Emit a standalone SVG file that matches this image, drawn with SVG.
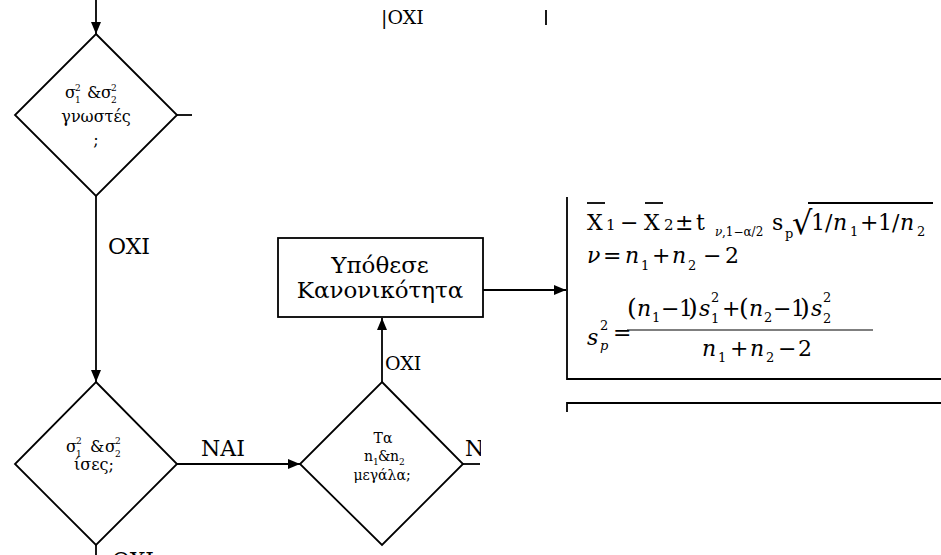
<svg xmlns="http://www.w3.org/2000/svg" width="941" height="555" viewBox="0 0 941 555">
<style>
.ln{stroke:#000;stroke-width:1.8;fill:none}
.sh{stroke:#000;stroke-width:1.8;fill:#fff}
text{font-family:'DejaVu Serif','Liberation Serif',serif;fill:#000}
.c{text-anchor:middle}
.i{font-style:italic}
.L{font-size:22px}
.B{font-size:23px}
.M{font-size:19px}
.d{font-size:16px}
.ds{font-size:9px}
.e{font-size:14px}
.es{font-size:9px}
.F{font-size:22px}
.Fs{font-size:13px}
.Fx{font-size:12px}
.Fm{font-size:15px}
.P{font-size:25px}
.R{font-size:32px}
</style>
<defs>
<marker id="ah" viewBox="0 0 12 10" refX="12" refY="5" markerWidth="12" markerHeight="10" markerUnits="userSpaceOnUse" orient="auto">
<path d="M0,0 L12,5 L0,10 Z" fill="#000"/>
</marker>
<clipPath id="clipN"><rect x="440" y="420" width="41" height="50"/></clipPath>
</defs>
<rect width="941" height="555" fill="#fff"/>

<g id="connectors">
<line class="ln" x1="96" y1="0" x2="96" y2="34" marker-end="url(#ah)"/>
<line class="ln" x1="177" y1="115" x2="192" y2="115"/>
<line class="ln" x1="96" y1="196" x2="96" y2="382" marker-end="url(#ah)"/>
<line class="ln" x1="177" y1="464" x2="300" y2="464" marker-end="url(#ah)"/>
<line class="ln" x1="382" y1="382" x2="382" y2="318" marker-end="url(#ah)"/>
<line class="ln" x1="483" y1="290" x2="566" y2="290" marker-end="url(#ah)"/>
<line class="ln" x1="463" y1="464" x2="480" y2="464"/>
<line class="ln" x1="96" y1="545" x2="96" y2="555"/>
<line class="ln" x1="546" y1="10" x2="546" y2="25"/>
<text class="L" x="108" y="254">OXI</text>
<text class="L" x="201" y="456">NAI</text>
<text class="M" x="385" y="370">OXI</text>
<text class="M" x="381" y="24">|OXI</text>
<text class="L" x="112" y="568">OXI</text>
<text class="L" x="465" y="456" clip-path="url(#clipN)">NAI</text>
</g>

<g id="d1">
<polygon class="sh" points="96,34 177,115 96,196 15,115"/>
<text class="d" x="65" y="98">σ<tspan class="ds" x="75" y="91">2</tspan><tspan class="ds" x="75" y="103">1</tspan><tspan x="87" y="98">&amp;</tspan><tspan x="101" y="98">σ</tspan><tspan class="ds" x="111" y="91">2</tspan><tspan class="ds" x="111" y="103">2</tspan></text>
<text class="d c" x="96" y="122">γνωστές</text>
<text class="d c" x="96" y="145">;</text>
</g>

<g id="d2">
<polygon class="sh" points="96,382 177,464 96,545 15,464"/>
<text class="d" x="66" y="452">σ<tspan class="ds" x="76" y="444">2</tspan><tspan class="ds" x="76" y="457">1</tspan><tspan x="90" y="452">&amp;</tspan><tspan x="105" y="452">σ</tspan><tspan class="ds" x="115" y="444">2</tspan><tspan class="ds" x="115" y="457">2</tspan></text>
<text class="d c" x="94" y="470">ίσες;</text>
</g>

<g id="d3">
<polygon class="sh" points="382,382 463,464 382,545 300,464"/>
<text class="e c" x="383" y="443">Τα</text>
<text class="e" x="364" y="461">n<tspan class="es" x="373" y="465">1</tspan><tspan x="378" y="461">&amp;</tspan><tspan x="390" y="461">n</tspan><tspan class="es" x="399" y="465">2</tspan></text>
<text class="e c" x="382" y="480">μεγάλα;</text>
</g>

<g id="box">
<rect class="sh" x="278" y="238" width="205" height="79"/>
<text class="B c" x="380" y="273">Υπόθεσε</text>
<text class="B c" x="380" y="298">Κανονικότητα</text>
</g>

<g id="formula">
<path class="ln" d="M567,197 V379 H941"/>
<line class="ln" x1="587" y1="203" x2="605" y2="203"/>
<line class="ln" x1="645" y1="203" x2="663" y2="203"/>
<line class="ln" x1="808" y1="203" x2="933" y2="203"/>
<text class="F" x="587" y="230">X<tspan class="Fm" x="606" y="230">1</tspan><tspan x="620" y="230">−</tspan><tspan x="644" y="230">X</tspan><tspan class="Fm" x="664" y="230">2</tspan><tspan x="675" y="230">±</tspan><tspan x="696" y="230">t</tspan><tspan class="Fx i" x="715" y="236">ν</tspan><tspan class="Fx" x="722" y="236">,1−α/2</tspan><tspan x="772" y="230">s</tspan><tspan class="Fs" x="785" y="238">p</tspan><tspan class="R" x="792" y="234">√</tspan><tspan x="811" y="230">1/</tspan><tspan class="i" x="833" y="230">n</tspan><tspan class="Fs" x="850" y="236">1</tspan><tspan x="860" y="230">+</tspan><tspan x="878" y="230">1/</tspan><tspan class="i" x="900" y="230">n</tspan><tspan class="Fs" x="917" y="236">2</tspan></text>

<text class="F i" x="587" y="263">ν<tspan style="font-style:normal" x="603" y="263">=</tspan><tspan x="625" y="263">n</tspan><tspan class="Fs" style="font-style:normal" x="641" y="270">1</tspan><tspan style="font-style:normal" x="652" y="263">+</tspan><tspan x="672" y="263">n</tspan><tspan class="Fs" style="font-style:normal" x="688" y="270">2</tspan><tspan style="font-style:normal" x="703" y="263">−</tspan><tspan style="font-style:normal" x="725" y="263">2</tspan></text>

<text class="F i" x="587" y="345">s<tspan class="Fs" style="font-style:normal" x="600" y="330">2</tspan><tspan class="Fs" x="600" y="350">p</tspan><tspan style="font-style:normal" x="613" y="340">=</tspan></text>
<line class="ln" x1="627" y1="330" x2="873" y2="330" style="stroke-width:1.2"/>
<text class="F" x="627" y="316"><tspan class="P">(</tspan><tspan class="i" x="637" y="316">n</tspan><tspan class="Fs" x="652" y="322">1</tspan><tspan x="661" y="316">−</tspan><tspan x="679" y="316">1</tspan><tspan class="P" x="688" y="316">)</tspan><tspan class="i" x="699" y="316">s</tspan><tspan class="Fs" x="711" y="302">2</tspan><tspan class="Fs" x="711" y="323">1</tspan><tspan x="722" y="316">+</tspan><tspan class="P" x="739" y="316">(</tspan><tspan class="i" x="749" y="316">n</tspan><tspan class="Fs" x="764" y="322">2</tspan><tspan x="773" y="316">−</tspan><tspan x="791" y="316">1</tspan><tspan class="P" x="800" y="316">)</tspan><tspan class="i" x="811" y="316">s</tspan><tspan class="Fs" x="823" y="302">2</tspan><tspan class="Fs" x="823" y="323">2</tspan></text>
<text class="F i" x="702" y="356">n<tspan class="Fs" style="font-style:normal" x="718" y="362">1</tspan><tspan style="font-style:normal" x="730" y="356">+</tspan><tspan x="750" y="356">n</tspan><tspan class="Fs" style="font-style:normal" x="766" y="362">2</tspan><tspan style="font-style:normal" x="778" y="356">−</tspan><tspan style="font-style:normal" x="798" y="356">2</tspan></text>
<path class="ln" d="M567,412 V403 H941"/>
</g>
</svg>
